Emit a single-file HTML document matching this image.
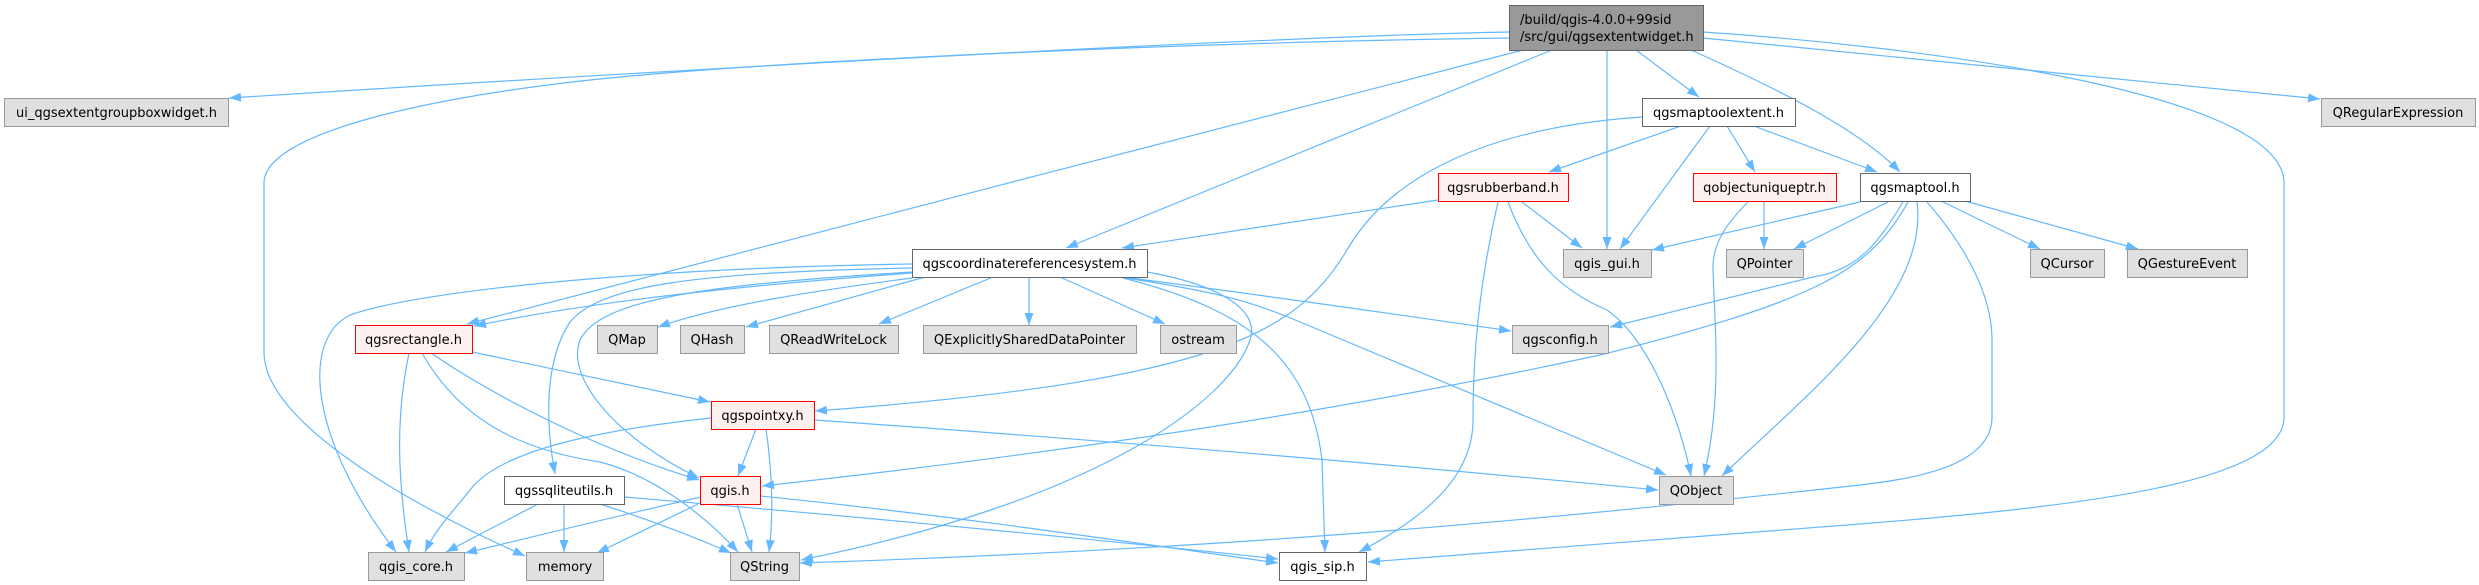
<!DOCTYPE html>
<html>
<head>
<meta charset="utf-8">
<style>
html,body{margin:0;padding:0;background:#fff;}
svg{display:block;}
text{font-family:"DejaVu Sans","Liberation Sans",sans-serif;font-size:13px;fill:#000;}
</style>
</head>
<body>
<svg width="2479" height="585" viewBox="0 0 2479 585" xmlns="http://www.w3.org/2000/svg">
<defs>
<marker id="a" markerUnits="userSpaceOnUse" markerWidth="12" markerHeight="9" viewBox="0 0 12 9" refX="12" refY="4.5" orient="auto">
<path d="M0,0 L12,4.5 L0,9 z" fill="#63b8ff"/>
</marker>
</defs>
<rect width="2479" height="585" fill="#fff"/>
<g fill="none" stroke="#63b8ff" stroke-width="1.2" marker-end="url(#a)">
<!-- root edges -->
<path d="M1509,32 C1300,36 800,62 229,98"/>
<path d="M1509,38 C1200,42 800,60 620,77 C450,93 264,130 264,183 L264,352 C264,420 400,500 525,556"/>
<path d="M1523,50 C1250,120 750,250 467,324"/>
<path d="M1552,50 L1066,248"/>
<path d="M1607,50 L1607,249"/>
<path d="M1636,50 L1699,97"/>
<path d="M1691,50 C1780,90 1860,130 1900,172"/>
<path d="M1703,38 L2320,99"/>
<path d="M1703,32 C1900,45 2284,90 2284,183 L2284,417 C2284,480 2100,505 1860,524 C1650,540 1500,553 1368,562"/>
<!-- maptoolextent -->
<path d="M1754,126 L1877,172"/>
<path d="M1681,126 L1549,172"/>
<path d="M1727,126 L1755,172"/>
<path d="M1710,126 L1620,249"/>
<path d="M1642,117 C1480,128 1390,180 1350,245 C1300,330 1230,380 815,411"/>
<!-- rubberband -->
<path d="M1438,200 L1122,248"/>
<path d="M1522,202 L1582,248"/>
<path d="M1508,202 C1530,260 1560,290 1607,310 C1650,340 1680,420 1691,476"/>
<path d="M1498,202 C1480,280 1473,350 1473,420 C1473,480 1420,520 1359,552"/>
<!-- qobjectuniqueptr -->
<path d="M1764,202 L1764,249"/>
<path d="M1748,202 C1725,225 1712,245 1713,270 C1715,330 1722,400 1704,476"/>
<!-- maptool -->
<path d="M1860,202 L1652,250"/>
<path d="M1888,202 L1794,249"/>
<path d="M1941,201 L2040,249"/>
<path d="M1965,201 L2138,249"/>
<path d="M1903,202 C1880,240 1860,270 1813,277 C1760,290 1680,310 1610,327"/>
<path d="M1908,202 C1870,270 1820,300 1600,355 C1300,420 1000,460 762,486"/>
<path d="M1917,202 C1930,300 1800,400 1722,476"/>
<path d="M1927,202 C1960,240 1992,290 1992,340 L1992,417 C1992,470 1900,480 1860,485 C1500,525 1200,550 800,563"/>
<!-- CRS -->
<path d="M912,278 C820,290 720,305 658,327"/>
<path d="M925,277 L746,327"/>
<path d="M993,277 L879,324"/>
<path d="M1029,277 L1029,325"/>
<path d="M1060,277 L1165,324"/>
<path d="M1123,277 C1300,300 1400,315 1511,331"/>
<path d="M1120,277 C1200,290 1240,296 1300,322 L1666,475"/>
<path d="M1147,272 C1220,285 1260,310 1250,340 C1230,400 1100,500 801,560"/>
<path d="M1123,278 C1250,310 1310,360 1322,460 L1325,552"/>
<path d="M912,272 C700,285 600,300 580,340 C565,380 620,440 699,478"/>
<path d="M912,273 C750,285 600,300 474,326"/>
<path d="M912,268 C700,272 600,285 570,322 C545,360 545,420 555,474"/>
<path d="M912,264 C650,268 420,290 350,315 C300,340 310,440 396,552"/>
<!-- qgsrectangle -->
<path d="M409,353 C395,420 398,480 409,552"/>
<path d="M472,352 L710,402"/>
<path d="M431,353 C500,400 600,450 699,480"/>
<path d="M422,353 C460,420 520,450 600,462 C650,475 700,510 738,552"/>
<!-- qgspointxy -->
<path d="M756,429 L738,476"/>
<path d="M766,429 C772,470 774,510 769,552"/>
<path d="M815,420 C1100,440 1400,465 1658,490"/>
<path d="M711,418 C600,430 500,450 470,490 C450,515 435,530 425,552"/>
<!-- qgis.h -->
<path d="M737,504 L752,552"/>
<path d="M701,497 C600,520 520,540 465,553"/>
<path d="M698,504 L597,553"/>
<path d="M760,496 C950,515 1150,545 1278,563"/>
<!-- qgssqliteutils -->
<path d="M538,504 L446,552"/>
<path d="M564,504 L564,552"/>
<path d="M600,504 C650,520 690,535 731,553"/>
<path d="M624,497 C900,520 1150,545 1278,559"/>
</g>

<!-- nodes -->
<g stroke-width="1">
<rect x="1509.5" y="5.5" width="194" height="45" fill="#999999" stroke="#666666"/>
<rect x="4.5" y="98.5" width="224" height="28" fill="#e0e0e0" stroke="#999999"/>
<rect x="526.5" y="552.5" width="77" height="28" fill="#e0e0e0" stroke="#999999"/>
<rect x="355.5" y="325.5" width="117" height="28" fill="#fff0f0" stroke="#ff0000"/>
<rect x="912.5" y="249.5" width="235" height="28" fill="#ffffff" stroke="#666666"/>
<rect x="1563.5" y="249.5" width="88" height="28" fill="#e0e0e0" stroke="#999999"/>
<rect x="1642.5" y="98.5" width="153" height="28" fill="#ffffff" stroke="#666666"/>
<rect x="1860.5" y="173.5" width="110" height="28" fill="#ffffff" stroke="#666666"/>
<rect x="1279.5" y="552.5" width="87" height="28" fill="#ffffff" stroke="#666666"/>
<rect x="2321.5" y="98.5" width="154" height="28" fill="#e0e0e0" stroke="#999999"/>
<rect x="1438.5" y="173.5" width="130" height="28" fill="#fff0f0" stroke="#ff0000"/>
<rect x="1693.5" y="173.5" width="143" height="28" fill="#fff0f0" stroke="#ff0000"/>
<rect x="1726.5" y="249.5" width="77" height="28" fill="#e0e0e0" stroke="#999999"/>
<rect x="2030.5" y="249.5" width="74" height="28" fill="#e0e0e0" stroke="#999999"/>
<rect x="2127.5" y="249.5" width="120" height="28" fill="#e0e0e0" stroke="#999999"/>
<rect x="1512.5" y="325.5" width="96" height="28" fill="#e0e0e0" stroke="#999999"/>
<rect x="1659.5" y="476.5" width="74" height="28" fill="#e0e0e0" stroke="#999999"/>
<rect x="597.5" y="325.5" width="60" height="28" fill="#e0e0e0" stroke="#999999"/>
<rect x="680.5" y="325.5" width="64" height="28" fill="#e0e0e0" stroke="#999999"/>
<rect x="769.5" y="325.5" width="129" height="28" fill="#e0e0e0" stroke="#999999"/>
<rect x="923.5" y="325.5" width="213" height="28" fill="#e0e0e0" stroke="#999999"/>
<rect x="1160.5" y="325.5" width="76" height="28" fill="#e0e0e0" stroke="#999999"/>
<rect x="711.5" y="401.5" width="103" height="28" fill="#fff0f0" stroke="#ff0000"/>
<rect x="700.5" y="476.5" width="60" height="28" fill="#fff0f0" stroke="#ff0000"/>
<rect x="504.5" y="476.5" width="120" height="28" fill="#ffffff" stroke="#666666"/>
<rect x="368.5" y="552.5" width="96" height="28" fill="#e0e0e0" stroke="#999999"/>
<rect x="730.5" y="552.5" width="69" height="28" fill="#e0e0e0" stroke="#999999"/>
</g>

<g text-anchor="middle">
<text x="1520" y="24" text-anchor="start">/build/qgis-4.0.0+99sid</text>
<text x="1520" y="41" text-anchor="start">/src/gui/qgsextentwidget.h</text>
<text x="116.5" y="117">ui_qgsextentgroupboxwidget.h</text>
<text x="565" y="571">memory</text>
<text x="413.5" y="344">qgsrectangle.h</text>
<text x="1029.5" y="268">qgscoordinatereferencesystem.h</text>
<text x="1607" y="268">qgis_gui.h</text>
<text x="1718.5" y="117">qgsmaptoolextent.h</text>
<text x="1915" y="192">qgsmaptool.h</text>
<text x="1322.5" y="571">qgis_sip.h</text>
<text x="2398" y="117">QRegularExpression</text>
<text x="1503" y="192">qgsrubberband.h</text>
<text x="1764.5" y="192">qobjectuniqueptr.h</text>
<text x="1764.5" y="268">QPointer</text>
<text x="2067" y="268">QCursor</text>
<text x="2187" y="268">QGestureEvent</text>
<text x="1560" y="344">qgsconfig.h</text>
<text x="1696" y="495">QObject</text>
<text x="627" y="344">QMap</text>
<text x="712" y="344">QHash</text>
<text x="833.5" y="344">QReadWriteLock</text>
<text x="1029.5" y="344">QExplicitlySharedDataPointer</text>
<text x="1198" y="344">ostream</text>
<text x="762.5" y="420">qgspointxy.h</text>
<text x="730" y="495">qgis.h</text>
<text x="564" y="495">qgssqliteutils.h</text>
<text x="416" y="571">qgis_core.h</text>
<text x="764.5" y="571">QString</text>
</g>
</svg>
</body>
</html>
